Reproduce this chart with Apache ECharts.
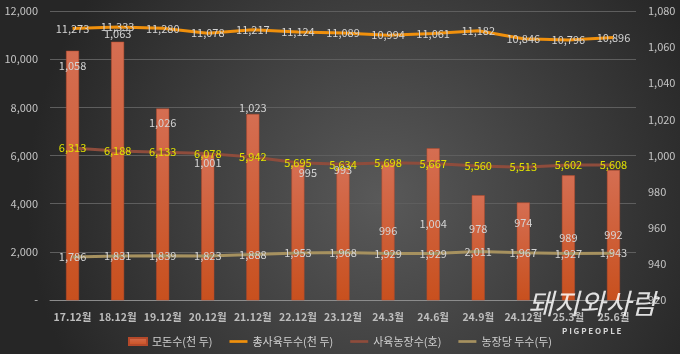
<!DOCTYPE html>
<html>
<head>
<meta charset="utf-8">
<script src="https://cdn.jsdelivr.net/npm/echarts@6.0.0/dist/echarts.min.js"></script>
<style>
    html, body { margin: 0; padding: 0; background: #262626; }
    #main { width: 680px; height: 354px; }
</style>
</head>
<body>
<div id="main"></div>
<script>
//기간
var categories = ['17.12월', '18.12월', '19.12월', '20.12월', '21.12월', '22.12월', '23.12월',
    '24.3월', '24.6월', '24.9월', '24.12월', '25.3월', '25.6월'];
//모돈수(천 두)
var sowCount = [1058, 1063, 1026, 1001, 1023, 995, 993, 996, 1004, 978, 974, 989, 992];
//총사육두수(천 두)
var totalPigs = [11273, 11333, 11280, 11078, 11217, 11124, 11089, 10994, 11061, 11182, 10846, 10796, 10896];
//사육농장수(호)
var farmCount = [6313, 6188, 6133, 6078, 5942, 5695, 5634, 5698, 5667, 5560, 5513, 5602, 5608];
//농장당 두수(두)
var pigsPerFarm = [1786, 1831, 1839, 1823, 1888, 1953, 1968, 1929, 1929, 2011, 1967, 1927, 1943];

// 막대 라벨 위치 (엑셀에서 수동 배치된 것 흉내)
var barLabelDx = [0, 0, 0, 0, 0, 10, 0, 0, 0, 0, 0, 0, 0];
var barLabelDy = [15, -8, 14, 9, -6, 8, 2, 68, 76, 34, 20, 62, 65];

var fontFamily = '"Noto Sans CJK KR", "Noto Sans", sans-serif';

function fmt(v) {
    return echarts.format.addCommas(v);
}

var dom = document.getElementById("main");
var myChart = echarts.init(dom);

var barData = sowCount.map(function (v, i) {
    return {
        value: v,
        label: {
            position: [barLabelDx[i] + 6.5, barLabelDy[i]]
        }
    };
});

var option = {
    backgroundColor: {
        type: 'radial',
        x: 0.56,
        y: 0.56,
        r: 1,
        colorStops: [
            { offset: 0, color: '#595959' },
            { offset: 1, color: '#262626' }
        ]
    },
    textStyle: { fontFamily: fontFamily },
    animation: false,
    grid: {
        left: 50,
        right: 44,
        top: 11,
        bottom: 54
    },
    legend: {
        left: 'center',
        top: 331,
        itemWidth: 18,
        itemHeight: 7,
        itemGap: 17,
        textStyle: { color: '#cfcfcf', fontSize: 11, fontFamily: fontFamily },
        data: [
            { name: '모돈수(천 두)', icon: 'rect' },
            { name: '총사육두수(천 두)', icon: 'path://M0,0H20V3H0Z' },
            { name: '사육농장수(호)', icon: 'path://M0,0H20V3H0Z' },
            { name: '농장당 두수(두)', icon: 'path://M0,0H20V3H0Z' }
        ]
    },
    xAxis: {
        type: 'category',
        data: categories,
        axisLine: { lineStyle: { color: '#8c8c8c', width: 1 } },
        axisTick: { show: false },
        axisLabel: {
            color: '#bdbdbd',
            fontSize: 10.5,
            fontWeight: 'bold',
            margin: 12,
            interval: 0
        }
    },
    yAxis: [
        {
            type: 'value',
            min: 0,
            max: 12000,
            interval: 2000,
            axisLine: { show: false },
            axisTick: { show: false },
            splitLine: { lineStyle: { color: '#5e5e5e', width: 1 } },
            axisLabel: {
                color: '#c4c4c4',
                fontSize: 11,
                margin: 12,
                formatter: function (v) { return v === 0 ? '-' : fmt(v); }
            }
        },
        {
            type: 'value',
            min: 920,
            max: 1080,
            interval: 20,
            axisLine: { show: false },
            axisTick: { show: false },
            splitLine: { show: false },
            axisLabel: {
                color: '#c4c4c4',
                fontSize: 11,
                margin: 12,
                formatter: function (v) { return fmt(v); }
            }
        }
    ],
    series: [
        {
            name: '모돈수(천 두)',
            type: 'bar',
            yAxisIndex: 1,
            barWidth: 13,
            clip: true,
            itemStyle: {
                color: {
                    type: 'linear', x: 0, y: 0, x2: 0, y2: 1,
                    colorStops: [
                        { offset: 0, color: '#D56E52' },
                        { offset: 1, color: '#C8501E' }
                    ]
                },
                borderColor: '#b5492a',
                borderWidth: 0.5
            },
            label: {
                show: true,
                color: '#d4d4d4',
                fontSize: 11,
                align: 'center',
                verticalAlign: 'middle',
                formatter: function (p) { return fmt(p.value); }
            },
            data: barData,
            z: 1
        },
        {
            name: '총사육두수(천 두)',
            type: 'line',
            yAxisIndex: 0,
            symbol: 'circle',
            symbolSize: 0.1,
            lineStyle: { color: '#F0900C', width: 3 },
            itemStyle: { color: '#F0900C' },
            label: {
                show: true,
                position: 'inside',
                color: '#d4d4d4',
                fontSize: 11,
                formatter: function (p) { return fmt(p.value); }
            },
            data: totalPigs
        },
        {
            name: '사육농장수(호)',
            type: 'line',
            yAxisIndex: 0,
            symbol: 'circle',
            symbolSize: 0.1,
            lineStyle: { color: '#8E4C3C', width: 3 },
            itemStyle: { color: '#8E4C3C' },
            label: {
                show: true,
                position: 'inside',
                color: '#E2E200',
                fontSize: 11,
                formatter: function (p) { return fmt(p.value); }
            },
            data: farmCount
        },
        {
            name: '농장당 두수(두)',
            type: 'line',
            yAxisIndex: 0,
            symbol: 'circle',
            symbolSize: 0.1,
            lineStyle: { color: '#A6915F', width: 3 },
            itemStyle: { color: '#A6915F' },
            label: {
                show: true,
                position: 'inside',
                color: '#d4d4d4',
                fontSize: 11,
                formatter: function (p) { return fmt(p.value); }
            },
            data: pigsPerFarm
        }
    ],
    graphic: [
        {
            type: 'text',
            left: 528,
            top: 289,
            z: 100,
            style: {
                text: '돼지와사람',
                fill: 'rgba(255,255,255,0.85)',
                fontSize: 28,
                fontStyle: 'italic',
                fontFamily: fontFamily
            }
        },
        {
            type: 'text',
            left: 562,
            top: 327,
            z: 100,
            style: {
                text: 'P I G P E O P L E',
                fill: 'rgba(255,255,255,0.8)',
                fontSize: 8,
                fontWeight: 'bold',
                fontFamily: fontFamily
            }
        }
    ]
};

if (option && typeof option === "object") {
    myChart.setOption(option, true);
}
</script>
</body>
</html>
